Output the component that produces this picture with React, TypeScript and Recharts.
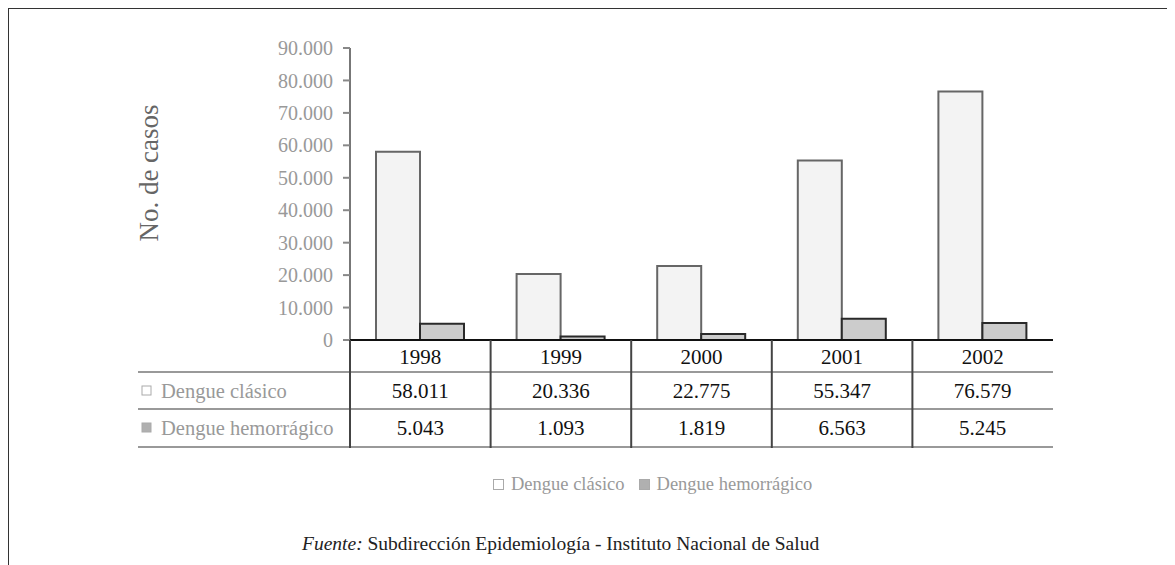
import React from "react";
import { BarChart, Bar, XAxis, YAxis, Legend } from "recharts";

const years = ["1998", "1999", "2000", "2001", "2002"];
const clasico = [58011, 20336, 22775, 55347, 76579];
const hemorragico = [5043, 1093, 1819, 6563, 5245];
const yTicks = [0, 10000, 20000, 30000, 40000, 50000, 60000, 70000, 80000, 90000];
const seriesNames = ["Dengue clásico", "Dengue hemorrágico"];

const data = years.map((year, i) => ({ year, clasico: clasico[i], hemorragico: hemorragico[i] }));

const W = 1167;
const H = 557;
const MARGIN = { top: 40, right: 122, left: 0, bottom: 115 };
const Y_W = 342;
const HALF_BAND = (W - MARGIN.left - MARGIN.right - Y_W) / years.length / 2;
const SERIF = "Liberation Serif, Times New Roman, serif";

const fmt = (v: number) => String(v).replace(/\B(?=(\d{3})+(?!\d))/g, ".");

const FILL = ["#f3f3f3", "#cccccc"];
const STROKE = ["#666", "#2a2a2a"];

// year + table cells drawn under each category
function TableTick(props: any) {
  const { x, y, payload, index } = props;
  const i = years.indexOf(payload.value);
  const left = x - HALF_BAND;
  const right = x + HALF_BAND;
  const hStart = index === 0 ? 130 : left;
  const rows = [y + 32, y + 69, y + 107];
  return (
    <g>
      {rows.map((ry, k) => (
        <line key={k} x1={hStart} x2={right} y1={ry} y2={ry} stroke="#999" strokeWidth={2} />
      ))}
      <line x1={left} x2={left} y1={y} y2={y + 108} stroke="#444" strokeWidth={2} />
      <text x={x} y={y + 17} textAnchor="middle" dominantBaseline="central" fontSize={21} fontFamily={SERIF} fill="#111">
        {payload.value}
      </text>
      <text x={x} y={y + 51} textAnchor="middle" dominantBaseline="central" fontSize={21} fontFamily={SERIF} fill="#111">
        {fmt(clasico[i])}
      </text>
      <text x={x} y={y + 88} textAnchor="middle" dominantBaseline="central" fontSize={21} fontFamily={SERIF} fill="#111">
        {fmt(hemorragico[i])}
      </text>
      {index === 0 &&
        seriesNames.map((name, k) => (
          <g key={name}>
            <rect x={134} y={y + 46 + k * 37} width={9} height={9} fill={k === 0 ? "#fff" : "#b0b0b0"} stroke="#aaa" strokeWidth={1} />
            <text x={153} y={y + 51 + k * 37} dominantBaseline="central" fontSize={20.5} fontFamily={SERIF} fill="#999">
              {name}
            </text>
          </g>
        ))}
    </g>
  );
}

function YTitle(props: any) {
  const vb = props.viewBox || { x: 0, y: 40 };
  const cx = vb.x + 141;
  const cy = 165;
  return (
    <text x={cx} y={cy} transform={`rotate(-90 ${cx} ${cy})`} textAnchor="middle" dominantBaseline="central" fontSize={27} fontFamily={SERIF} fill="#666">
      No. de casos
    </text>
  );
}

function LegendBox() {
  return (
    <div style={{ display: "flex", alignItems: "center", fontFamily: SERIF, fontSize: 18.5, color: "#999", whiteSpace: "nowrap" }}>
      {seriesNames.map((name, k) => (
        <span key={name} style={{ display: "inline-flex", alignItems: "center", marginRight: 14 }}>
          <span style={{ display: "inline-block", width: 9, height: 9, background: k === 0 ? "#fff" : "#b0b0b0", border: "1px solid #aaa", marginRight: 7 }} />
          {name}
        </span>
      ))}
    </div>
  );
}

export default function App() {
  return (
    <div style={{ position: "relative", width: W, height: H }}>
      <div style={{ position: "absolute", left: -1, top: -1, right: 0, bottom: 0, borderTop: "2px solid #333", borderLeft: "2px solid #333" }} />
      <BarChart width={W} height={H} data={data} margin={MARGIN} barGap={0} barSize={44}>
        <YAxis
          width={Y_W}
          domain={[0, 90000]}
          ticks={yTicks}
          interval={0}
          tickFormatter={fmt}
          tick={{ fill: "#999", fontSize: 20, fontFamily: SERIF }}
          tickSize={7}
          tickMargin={10}
          tickLine={{ stroke: "#888", strokeWidth: 2 }}
          axisLine={{ stroke: "#777", strokeWidth: 2 }}
          label={{ content: YTitle }}
        />
        <XAxis
          dataKey="year"
          height={110}
          tickLine={false}
          tickSize={0}
          tickMargin={0}
          interval={0}
          axisLine={{ stroke: "#111", strokeWidth: 2 }}
          tick={TableTick}
        />
        <Legend verticalAlign="middle" content={LegendBox} wrapperStyle={{ left: 485, top: 466, width: "auto" }} />
        <Bar dataKey="clasico" name={seriesNames[0]} fill={FILL[0]} stroke={STROKE[0]} strokeWidth={2} isAnimationActive={false} />
        <Bar dataKey="hemorragico" name={seriesNames[1]} fill={FILL[1]} stroke={STROKE[1]} strokeWidth={2} isAnimationActive={false} />
      </BarChart>
      <div style={{ position: "absolute", left: 294, top: 525, fontFamily: SERIF, fontSize: 19.5, color: "#222", whiteSpace: "nowrap" }}>
        <i>Fuente:</i> Subdirección Epidemiología - Instituto Nacional de Salud
      </div>
    </div>
  );
}
